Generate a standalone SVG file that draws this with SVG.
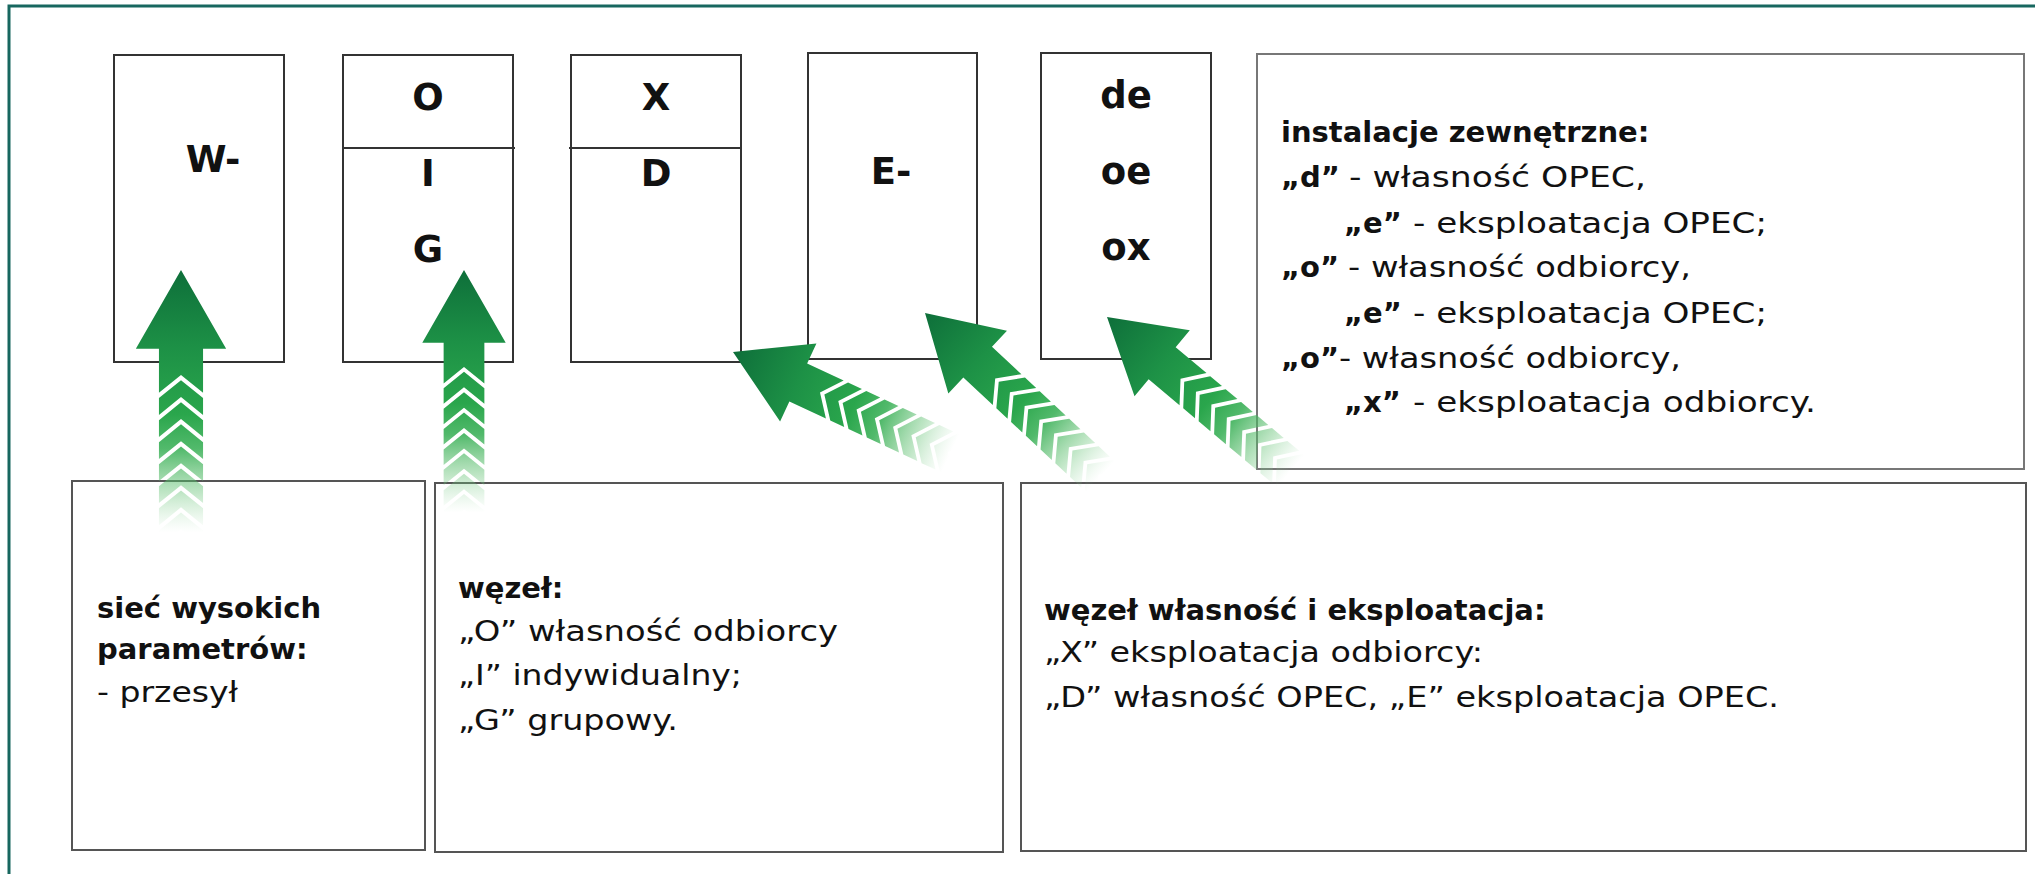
<svg xmlns="http://www.w3.org/2000/svg" xmlns:xlink="http://www.w3.org/1999/xlink" width="2035" height="874" viewBox="0 0 2035 874">
<style>
.box{fill:#fff;stroke:#333;stroke-width:2}
.bbox{fill:#fff;stroke:#555;stroke-width:2}
.div{stroke:#333;stroke-width:2}
.big{font-family:"DejaVu Sans","Liberation Sans",sans-serif;font-weight:bold;font-size:37px;fill:#111;text-anchor:middle}
.b{font-family:"DejaVu Sans","Liberation Sans",sans-serif;font-weight:bold;font-size:29px;fill:#111}
.r{font-family:"DejaVu Sans","Liberation Sans",sans-serif;font-weight:normal;font-size:28px;fill:#111}
</style>
<defs>
<linearGradient id="ag" gradientUnits="userSpaceOnUse" x1="0" y1="0" x2="0" y2="250">
<stop offset="0" stop-color="#0e6f3a"/>
<stop offset="0.3" stop-color="#1d9146"/>
<stop offset="0.55" stop-color="#2aa64c"/>
<stop offset="0.68" stop-color="#33ad51" stop-opacity="0.85"/>
<stop offset="0.85" stop-color="#62c172" stop-opacity="0.4"/>
<stop offset="1" stop-color="#9fdaa8" stop-opacity="0"/>
</linearGradient>
<g id="arrow" fill="url(#ag)">
<path d="M0,0 L43,75 L21,75 L21,117 L0,100 L-21,117 L-21,75 L-43,75 Z"/>
<path d="M-21,122 L0,105 L21,122 L21,138 L0,121 L-21,138 Z"/>
<path d="M-21,143 L0,126 L21,143 L21,159 L0,142 L-21,159 Z"/>
<path d="M-21,164 L0,147 L21,164 L21,180 L0,163 L-21,180 Z"/>
<path d="M-21,185 L0,168 L21,185 L21,201 L0,184 L-21,201 Z"/>
<path d="M-21,206 L0,189 L21,206 L21,222 L0,205 L-21,222 Z"/>
<path d="M-21,227 L0,210 L21,227 L21,243 L0,226 L-21,243 Z"/>
<path d="M-21,248 L0,231 L21,248 L21,264 L0,247 L-21,264 Z"/>
</g>
</defs>
<rect x="0" y="0" width="2035" height="874" fill="#fff"/>
<rect x="9" y="6" width="2060" height="900" fill="none" stroke="#17675f" stroke-width="3"/>

<g id="node-w">
<rect class="box" x="114" y="55" width="170" height="307"/>
<text class="big" x="213" y="172">W-</text>
</g>
<g id="node-oig">
<rect class="box" x="343" y="55" width="170" height="307"/>
<line class="div" x1="343" y1="148" x2="515" y2="148"/>
<text class="big" x="428" y="110">O</text>
<text class="big" x="428" y="186">I</text>
<text class="big" x="428" y="262">G</text>
</g>
<g id="node-xd">
<rect class="box" x="571" y="55" width="170" height="307"/>
<line class="div" x1="569" y1="148" x2="741" y2="148"/>
<text class="big" x="656" y="110">X</text>
<text class="big" x="656" y="186">D</text>
</g>
<g id="node-e">
<rect class="box" x="808" y="53" width="169" height="306"/>
<text class="big" x="891" y="184">E-</text>
</g>
<g id="node-deoeox">
<rect class="box" x="1041" y="53" width="170" height="306"/>
<text class="big" x="1126" y="108">de</text>
<text class="big" x="1126" y="184">oe</text>
<text class="big" x="1126" y="260">ox</text>
</g>
<g id="node-instalacje">
<rect x="1257" y="54" width="767" height="415" fill="#fff" stroke="#777" stroke-width="2"/>
<text class="b" x="1281" y="142">instalacje zewnętrzne:</text>
<text class="b" x="1281" y="187">„d”</text>
<text class="r" x="1349" y="187" textLength="297" lengthAdjust="spacingAndGlyphs">- własność OPEC,</text>
<text class="b" x="1344" y="233">„e”</text>
<text class="r" x="1413" y="233" textLength="354" lengthAdjust="spacingAndGlyphs">- eksploatacja OPEC;</text>
<text class="b" x="1281" y="277">„o”</text>
<text class="r" x="1348" y="277" textLength="343" lengthAdjust="spacingAndGlyphs">- własność odbiorcy,</text>
<text class="b" x="1344" y="323">„e”</text>
<text class="r" x="1413" y="323" textLength="354" lengthAdjust="spacingAndGlyphs">- eksploatacja OPEC;</text>
<text class="b" x="1281" y="368">„o”</text>
<text class="r" x="1339" y="368" textLength="342" lengthAdjust="spacingAndGlyphs">- własność odbiorcy,</text>
<text class="b" x="1344" y="412">„x”</text>
<text class="r" x="1413" y="412" textLength="403" lengthAdjust="spacingAndGlyphs">- eksploatacja odbiorcy.</text>
</g>
<g id="node-siec">
<rect class="bbox" x="72" y="481" width="353" height="369"/>
<text class="b" x="97" y="618">sieć wysokich</text>
<text class="b" x="97" y="659">parametrów:</text>
<text class="r" x="97" y="702" textLength="141" lengthAdjust="spacingAndGlyphs">- przesył</text>
</g>
<g id="node-wezel">
<rect class="bbox" x="435" y="483" width="568" height="369"/>
<text class="b" x="458" y="598">węzeł:</text>
<text class="r" x="458" y="641" textLength="380" lengthAdjust="spacingAndGlyphs">„O” własność odbiorcy</text>
<text class="r" x="458" y="685" textLength="284" lengthAdjust="spacingAndGlyphs">„I” indywidualny;</text>
<text class="r" x="458" y="730" textLength="220" lengthAdjust="spacingAndGlyphs">„G” grupowy.</text>
</g>
<g id="node-wezel-wlasnosc">
<rect class="bbox" x="1021" y="483" width="1005" height="368"/>
<text class="b" x="1044" y="620">węzeł własność i eksploatacja:</text>
<text class="r" x="1044" y="662" textLength="439" lengthAdjust="spacingAndGlyphs">„X” eksploatacja odbiorcy:</text>
<text class="r" x="1044" y="707" textLength="735" lengthAdjust="spacingAndGlyphs">„D” własność OPEC, „E” eksploatacja OPEC.</text>
</g>

<g id="connectors">
<use xlink:href="#arrow" href="#arrow" transform="translate(181,270) scale(1.05)"/>
<use xlink:href="#arrow" href="#arrow" transform="translate(464,270) scale(0.97)"/>
<use xlink:href="#arrow" href="#arrow" transform="translate(733,352) rotate(-65) scale(1,0.96)"/>
<use xlink:href="#arrow" href="#arrow" transform="translate(925,313) rotate(-47) scale(1,0.96)"/>
<use xlink:href="#arrow" href="#arrow" transform="translate(1107,317) rotate(-50) scale(1,0.96)"/>
</g>
</svg>
